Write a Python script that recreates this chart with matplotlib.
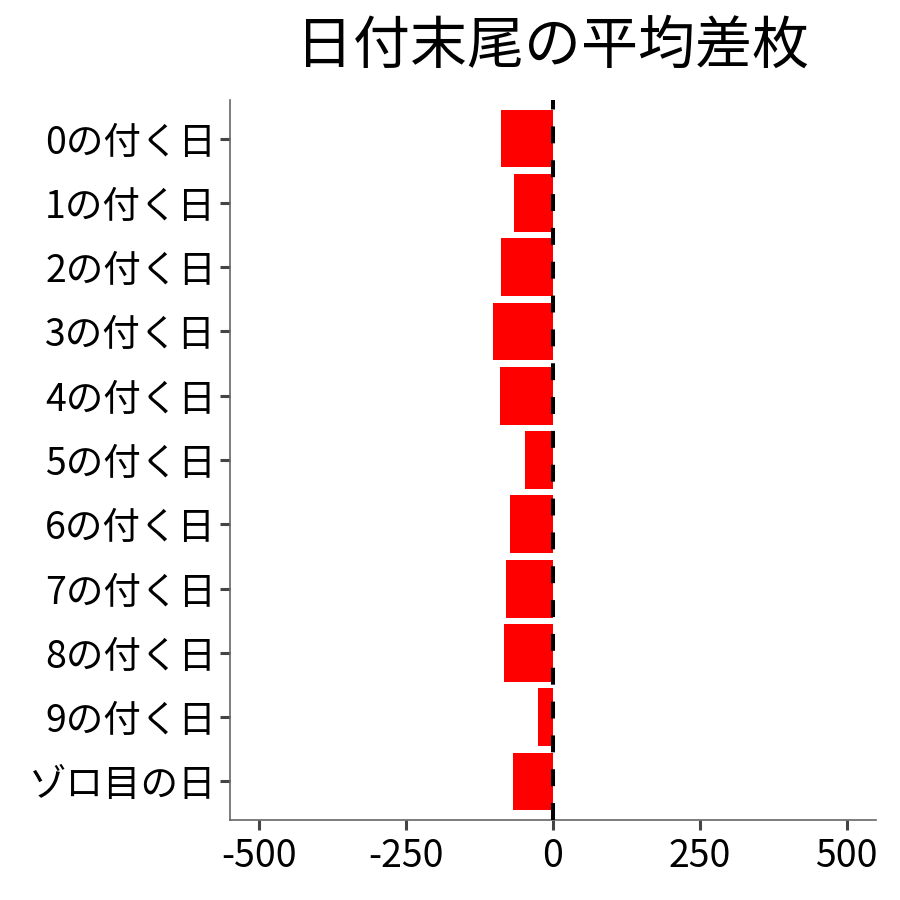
#!usr/bin/env python3

import matplotlib
matplotlib.use("Agg")
import matplotlib.pyplot as plt

plt.rcParams['font.family'] = ['Noto Sans CJK JP', 'DejaVu Sans']

# data
categories = ["0の付く日", "1の付く日", "2の付く日", "3の付く日", "4の付く日",
              "5の付く日", "6の付く日", "7の付く日", "8の付く日", "9の付く日", "ゾロ目の日"]
diff = [-87.7, -65.6, -87.7, -103.0, -89.4, -48.5, -72.4, -79.2, -82.6, -24.7, -67.3]
x_ticks = [-500, -250, 0, 250, 500]
title = "日付末尾の平均差枚"

fig = plt.figure(figsize=(9, 9), dpi=100)
ax = fig.add_axes([230/900, 1 - 820/900, (876 - 230)/900, (820 - 100)/900])

pos = list(range(len(categories)))
ax.barh(pos, diff, height=0.9, color="#ff0000", zorder=2)
ax.axvline(0, color="black", linewidth=2.9, dashes=(4.2, 4.2), zorder=3)

ax.set_xlim(-550, 550)
ax.set_ylim(len(categories) - 0.4, -0.6)
ax.set_yticks(pos)
ax.set_yticklabels(categories)
ax.set_xticks(x_ticks)
ax.set_xticklabels([str(t) for t in x_ticks])

for side in ["top", "right"]:
    ax.spines[side].set_visible(False)
for side in ["left", "bottom"]:
    ax.spines[side].set_color("#666666")
    ax.spines[side].set_linewidth(1.2)
ax.tick_params(axis="both", colors="#444444", length=7, width=2.2,
               labelsize=27, labelcolor="black", pad=3)
ax.tick_params(axis="x", pad=5)

fig.text((230 + 876) / 2 / 900, 1 - 46/900, title, ha="center", va="center",
         fontsize=41)

fig.savefig("out.png", dpi=100)
